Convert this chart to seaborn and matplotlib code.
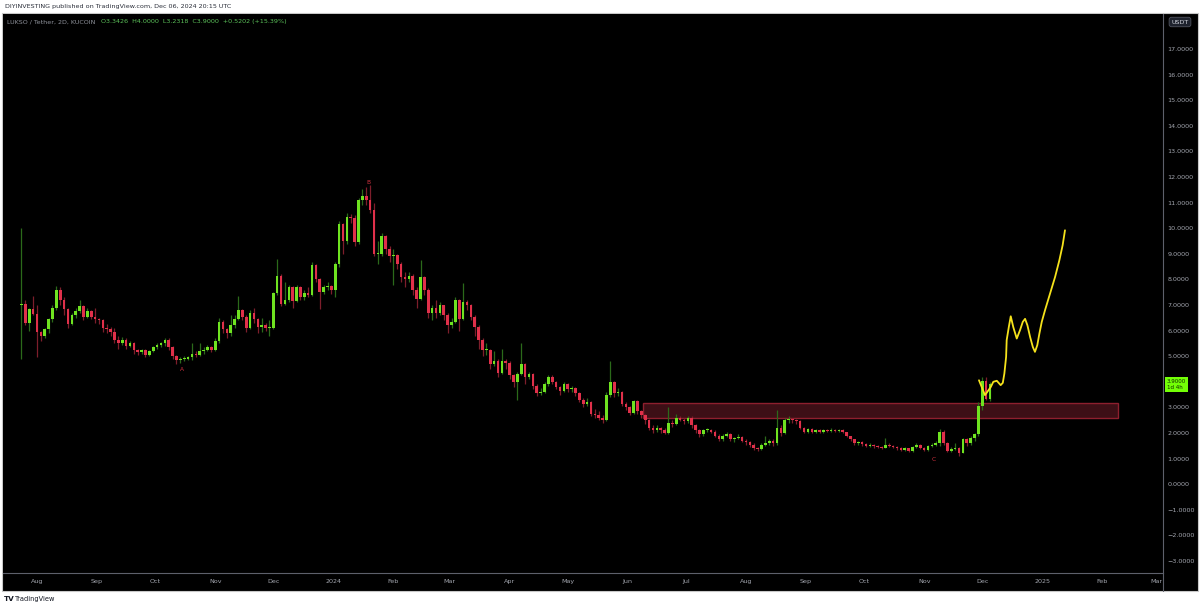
import matplotlib
matplotlib.use("Agg")
import numpy as np
import pandas as pd
import seaborn as sns
import matplotlib.pyplot as plt
import matplotlib.dates as mdates
from matplotlib.patches import Rectangle
from matplotlib.lines import Line2D
from matplotlib.transforms import blended_transform_factory

# LUKSO / Tether, 2D candles (KUCOIN)
first_candle = "2023-07-24"
first_open = 7.0
closes = [
    7.03, 6.3, 6.85, 6.65, 5.95, 5.8, 6.05, 6.45, 6.9, 7.6,
    7.2, 6.85, 6.25, 6.6, 6.75, 6.95, 6.55, 6.75, 6.55, 6.45,
    6.4, 6.1, 6.05, 5.95, 5.65, 5.5, 5.65, 5.4, 5.5, 5.25,
    5.15, 5.25, 5.05, 5.2, 5.35, 5.45, 5.5, 5.65, 5.35, 5.0,
    4.85, 4.9, 4.9, 4.95, 5.1, 5.05, 5.2, 5.25, 5.35, 5.25,
    5.6, 6.35, 6.05, 5.9, 6.2, 6.45, 6.8, 6.55, 6.1, 6.7,
    6.45, 6.15, 6.2, 6.1, 6.1, 7.45, 8.15, 7.05, 7.2, 7.7,
    7.15, 7.7, 7.3, 7.45, 7.4, 8.55, 8.0, 7.5, 7.7, 7.75,
    7.6, 8.6, 10.15, 9.5, 10.45, 10.4, 9.45, 11.1, 11.25, 11.1,
    10.7, 9.0, 9.0, 9.7, 9.2, 8.9, 8.95, 8.6, 8.1, 8.0,
    8.15, 7.6, 7.25, 8.1, 7.6, 6.7, 6.9, 6.7, 7.0, 6.6,
    6.2, 6.35, 7.2, 6.45, 7.1, 7.0, 6.55, 6.15, 5.65, 5.25,
    5.25, 4.7, 4.8, 4.35, 4.8, 4.75, 4.25, 4.0, 4.3, 4.7,
    4.2, 4.3, 3.85, 3.55, 3.6, 3.9, 4.2, 4.0, 3.8, 3.65,
    3.9, 3.7, 3.75, 3.55, 3.3, 3.15, 3.2, 2.75, 2.7, 2.6,
    2.5, 3.5, 4.0, 3.55, 3.6, 3.15, 3.0, 2.8, 3.25, 2.85,
    2.7, 2.5, 2.2, 2.1, 2.2, 2.1, 2.0, 2.4, 2.35, 2.6,
    2.5, 2.45, 2.6, 2.3, 2.1, 1.95, 2.1, 2.12, 2.05, 1.9,
    1.75, 1.9, 1.95, 1.75, 1.8, 1.85, 1.7, 1.65, 1.55, 1.4,
    1.38, 1.55, 1.6, 1.7, 1.6, 2.2, 2.0, 2.5, 2.55, 2.5,
    2.45, 2.2, 2.05, 2.15, 2.05, 2.1, 2.05, 2.1, 2.08, 2.12,
    2.08, 2.12, 2.05, 1.9, 1.75, 1.6, 1.65, 1.58, 1.5, 1.55,
    1.48, 1.45, 1.43, 1.55, 1.5, 1.45, 1.4, 1.35, 1.4, 1.3,
    1.45, 1.55, 1.42, 1.35, 1.5, 1.55, 1.6, 2.05, 1.6, 1.3,
    1.38, 1.42, 1.22, 1.75, 1.6, 1.8, 1.95, 3.05, 4.05, 3.3426,
    3.9,
]
highs = [
    10.0, 7.2, 6.9, 7.35, 7.0, 6.0, 6.1, 6.5, 7.0, 7.75,
    7.7, 7.3, 6.9, 6.7, 6.9, 7.2, 7.0, 6.9, 6.8, 6.9,
    6.5, 6.45, 6.25, 6.15, 6.1, 5.8, 5.75, 5.7, 5.6, 5.55,
    5.3, 5.3, 5.3, 5.25, 5.4, 5.5, 5.55, 5.7, 5.7, 5.4,
    5.05, 4.95, 5.0, 5.0, 5.5, 5.2, 5.5, 5.35, 5.45, 5.4,
    5.7, 6.5, 6.4, 6.1, 6.6, 6.6, 7.35, 6.85, 6.6, 6.8,
    6.9, 6.5, 6.5, 6.3, 6.4, 7.5, 8.8, 8.2, 7.9, 7.8,
    7.75, 7.8, 7.75, 7.6, 7.7, 8.7, 8.6, 8.05, 7.8, 7.9,
    7.8, 8.7, 10.3, 10.2, 10.6, 10.55, 10.5, 11.2, 11.55, 11.6,
    11.7, 11.0, 9.5, 9.8, 9.75, 9.3, 9.2, 9.0, 8.7, 8.3,
    8.3, 8.2, 7.7, 8.75, 8.15, 7.65, 7.0, 7.2, 7.1, 7.0,
    6.7, 6.5, 7.3, 7.25, 7.85, 7.2, 7.05, 6.6, 6.2, 5.7,
    5.5, 5.3, 5.2, 4.9, 5.3, 4.9, 4.8, 4.3, 4.4, 5.5,
    4.75, 4.4, 4.35, 3.9, 3.75, 4.0, 4.25, 4.25, 4.05, 3.85,
    4.0, 3.95, 3.85, 3.8, 3.6, 3.35, 3.35, 3.25, 2.95, 2.85,
    2.7, 3.6, 4.8, 4.05, 3.75, 3.65, 3.2, 3.05, 3.3, 3.3,
    2.9, 2.75, 2.55, 2.3, 2.3, 2.25, 2.2, 3.0, 2.5, 2.75,
    2.65, 2.6, 2.65, 2.65, 2.35, 2.15, 2.15, 2.2, 2.15, 2.1,
    1.95, 1.95, 2.05, 2.0, 1.85, 1.95, 1.9, 1.75, 1.7, 1.6,
    1.45, 1.6, 1.9, 1.75, 1.75, 2.9, 2.3, 2.6, 2.65, 2.6,
    2.55, 2.5, 2.25, 2.2, 2.2, 2.15, 2.15, 2.15, 2.15, 2.2,
    2.15, 2.15, 2.15, 2.05, 1.9, 1.75, 1.7, 1.7, 1.6, 1.6,
    1.58, 1.52, 1.5, 1.8, 1.6, 1.55, 1.5, 1.45, 1.45, 1.42,
    1.5, 1.6, 1.58, 1.45, 1.55, 1.6, 1.7, 2.15, 2.1, 1.65,
    1.45, 1.6, 1.45, 1.8, 1.8, 1.9, 2.0, 3.2, 4.2, 4.2,
    4.0,
]
lows = [
    4.9, 6.2, 6.0, 6.6, 4.95, 5.6, 5.7, 5.9, 6.35, 6.8,
    7.0, 6.6, 6.1, 6.2, 6.5, 6.7, 6.4, 6.5, 6.45, 6.3,
    6.25, 5.95, 5.9, 5.8, 5.5, 5.3, 5.45, 5.3, 5.35, 5.1,
    5.05, 5.1, 4.95, 5.0, 5.15, 5.3, 5.35, 5.4, 5.25, 4.9,
    4.7, 4.75, 4.8, 4.85, 4.85, 4.95, 5.0, 5.1, 5.2, 5.15,
    5.2, 5.5, 5.9, 5.7, 5.8, 6.1, 6.4, 6.4, 5.95, 6.05,
    6.3, 5.9, 5.95, 6.0, 5.8, 6.05, 7.4, 6.95, 7.0, 7.1,
    6.9, 7.1, 7.2, 7.2, 7.3, 7.35, 7.9, 6.85, 7.45, 7.6,
    7.45, 7.3, 8.5, 9.0, 9.4, 10.2, 9.3, 9.4, 10.9, 10.9,
    10.6, 8.9, 8.6, 8.9, 9.0, 8.7, 7.8, 8.4, 7.9, 7.7,
    7.9, 7.4, 6.9, 7.2, 7.4, 6.5, 6.4, 6.5, 6.6, 6.4,
    5.9, 6.1, 6.3, 6.0, 6.4, 6.8, 6.4, 5.8, 5.3, 5.0,
    5.05, 4.5, 4.6, 4.2, 4.3, 4.5, 4.1, 3.8, 3.3, 4.25,
    3.9, 4.1, 3.7, 3.45, 3.5, 3.55, 3.85, 3.9, 3.7, 3.5,
    3.6, 3.6, 3.6, 3.45, 3.2, 3.0, 3.05, 2.65, 2.6, 2.5,
    2.4, 2.45, 3.4, 3.4, 3.45, 3.05, 2.9, 2.7, 2.75, 2.75,
    2.6, 2.35, 2.1, 2.0, 2.05, 2.0, 1.95, 1.95, 2.25, 2.3,
    2.45, 2.35, 2.4, 2.2, 2.0, 1.85, 1.9, 2.05, 2.0, 1.85,
    1.7, 1.7, 1.85, 1.7, 1.65, 1.75, 1.65, 1.55, 1.45, 1.35,
    1.3, 1.35, 1.5, 1.55, 1.5, 1.55, 1.9, 1.95, 2.4, 2.4,
    2.35, 2.15, 2.0, 2.0, 2.0, 2.0, 2.0, 2.0, 2.03, 2.05,
    2.03, 2.05, 2.0, 1.85, 1.7, 1.55, 1.55, 1.5, 1.45, 1.45,
    1.42, 1.4, 1.38, 1.4, 1.45, 1.4, 1.35, 1.3, 1.3, 1.25,
    1.25, 1.4, 1.38, 1.3, 1.3, 1.45, 1.5, 1.5, 1.55, 1.25,
    1.25, 1.35, 1.1, 1.2, 1.5, 1.55, 1.7, 1.9, 2.9, 3.3,
    3.2318,
]

# hand-drawn yellow projection (days after 2023-08-01, price)
proj_base = "2023-08-01"
proj_days = [486.3, 489.4, 492.4, 493.7, 495.5, 497.5, 498.6, 499.4, 500.3, 500.6,
             501.7, 502.7, 504.0, 505.8, 507.5, 508.9, 510.1, 511.3, 512.7, 514.1,
             515.2, 516.4, 517.5, 518.7, 520.4, 523.0, 525.6, 527.8, 529.5, 530.7]
proj_price = [4.06, 3.48, 3.80, 4.00, 4.04, 3.87, 3.96, 4.32, 4.97, 5.63,
              6.14, 6.56, 6.14, 5.69, 6.02, 6.34, 6.46, 6.21, 5.75, 5.36,
              5.17, 5.43, 5.89, 6.34, 6.80, 7.45, 8.10, 8.75, 9.34, 9.92]

# support zone and wave labels
zone_dates = ["2024-06-09", "2025-02-09"]
zone_prices = [2.58, 3.19]
wave_labels = ["A", "B", "C"]
wave_dates = ["2023-10-15", "2024-01-19", "2024-11-06"]
wave_prices = [4.49, 11.8, 0.98]

# 4.0000 is hidden under the last-price tag
y_ticks = [-3, -2, -1, 0, 1, 2, 3, 5, 6, 7, 8, 9, 10, 11, 12, 13, 14, 15, 16, 17]
last_price = 3.9

GREEN = "#6fe320"
RED = "#e0304a"
BG = "#000000"
AXIS_TXT = "#a3a6af"

sns.set_theme(style="dark", rc={"axes.facecolor": BG, "figure.facecolor": "white"})
plt.rcParams["font.family"] = ["DejaVu Sans"]

W, H = 1200, 607
fig = plt.figure(figsize=(W / 100, H / 100), dpi=100)


def fx(px):
    return px / W


def fy(py):
    return 1 - py / H


# black chart panel with light border (behind the axes)
fig.patches.append(Rectangle((fx(2), fy(591)), fx(1196), (591 - 13) / H,
                             transform=fig.transFigure, facecolor=BG,
                             edgecolor="#c8c8c8", lw=0.8, zorder=-5))

ax = fig.add_axes([fx(3), fy(573), fx(1163 - 3), (573 - 14) / H])
ax.set_facecolor(BG)

dates = pd.date_range(first_candle, periods=len(closes), freq="2D")
xd = mdates.date2num(dates.to_pydatetime())
opens = np.array([first_open] + closes[:-1])
opens[-1] = 3.3426
c = np.array(closes)
up = c >= opens
body_lo = np.minimum(opens, c)
body_h = np.maximum(np.abs(c - opens), 0.04)

wick_cols = np.where(up, "#2b6a1a", "#7d1e2b")
ax.vlines(xd, lows, highs, colors=wick_cols, lw=0.9, zorder=2)
ax.bar(xd, body_h, bottom=body_lo, width=1.35,
       color=np.where(up, GREEN, RED), lw=0, zorder=3)

# zone
z0, z1 = mdates.date2num(pd.to_datetime(zone_dates).to_pydatetime())
ax.add_patch(Rectangle((z0, zone_prices[0]), z1 - z0, zone_prices[1] - zone_prices[0],
                       facecolor="#3d0f16", edgecolor="#8e1f2e", lw=1.0, zorder=1))

# projection drawing
base = mdates.date2num(pd.Timestamp(proj_base).to_pydatetime())
proj = pd.DataFrame({"x": base + np.array(proj_days), "y": proj_price})
sns.lineplot(data=proj, x="x", y="y", sort=False, color="#f5e21b", lw=1.3,
             ax=ax, zorder=4)

for lab, d, p in zip(wave_labels, wave_dates, wave_prices):
    ax.text(mdates.date2num(pd.Timestamp(d).to_pydatetime()), p, lab,
            color="#d0303f", fontsize=4.2, ha="center", va="center", zorder=5)

# limits (pixel calibration of the reference)
ax.set_xlim(base - 17.55, base + 581.3)
ax.set_ylim(-3.47, 18.37)
ax.grid(False)
ax.set_xlabel("")
ax.set_ylabel("")

# price axis on the right
ax.yaxis.tick_right()
ax.set_yticks(y_ticks)
ax.set_yticklabels([f"{v:.4f}".replace("-", "\u2212") for v in y_ticks])
ax.tick_params(axis="y", length=0, pad=3, labelsize=4.6, labelcolor=AXIS_TXT)

# date axis
ax.xaxis.set_major_locator(mdates.MonthLocator())
ax.xaxis.set_major_formatter(
    plt.FuncFormatter(lambda v, _: mdates.num2date(v).strftime("%Y")
                      if mdates.num2date(v).month == 1
                      else mdates.num2date(v).strftime("%b")))
ax.tick_params(axis="x", length=0, pad=4, labelsize=4.6, labelcolor=AXIS_TXT)

for s in ["top", "left"]:
    ax.spines[s].set_visible(False)
for s in ["right", "bottom"]:
    ax.spines[s].set_color("#5d606b")
    ax.spines[s].set_linewidth(0.8)

# right separator runs through date strip
fig.add_artist(Line2D([fx(1163), fx(1163)], [fy(591), fy(573)], color="#5d606b",
                      lw=0.8, transform=fig.transFigure))

# current price tag
tr = blended_transform_factory(ax.transAxes, ax.transData)
ax.text(1.0035, last_price, "3.9000\n1d 4h", transform=tr, fontsize=4.0,
        color="#0b2a00", ha="left", va="center", linespacing=1.1, clip_on=False,
        bbox=dict(boxstyle="square,pad=0.35", facecolor="#73ff06", edgecolor="none"),
        zorder=6)

# USDT box
fig.text(fx(1180), fy(22), "USDT", fontsize=4.6, color="#d1d4dc", ha="center",
         va="center", bbox=dict(boxstyle="round,pad=0.35", facecolor="#1e222d",
                                edgecolor="#50535e", lw=0.6))

# header
fig.text(fx(5), fy(6.5), "DIYINVESTING published on TradingView.com, Dec 06, 2024 20:15 UTC",
         fontsize=4.6, color="#2a2e39", ha="left", va="center")
fig.text(fx(7), fy(22), "LUKSO / Tether, 2D, KUCOIN", fontsize=4.6, color="#8f929b",
         ha="left", va="center")
fig.text(fx(101), fy(22), "O3.3426  H4.0000  L3.2318  C3.9000  +0.5202 (+15.39%)",
         fontsize=4.6, color="#5cc25a", ha="left", va="center")

# footer logo
fig.text(fx(4), fy(599), "TV", fontsize=5.2, color="#131722", weight="bold",
         ha="left", va="center")
fig.text(fx(15), fy(599), "TradingView", fontsize=4.8, color="#131722",
         ha="left", va="center")

fig.savefig("out.png", dpi=100)
